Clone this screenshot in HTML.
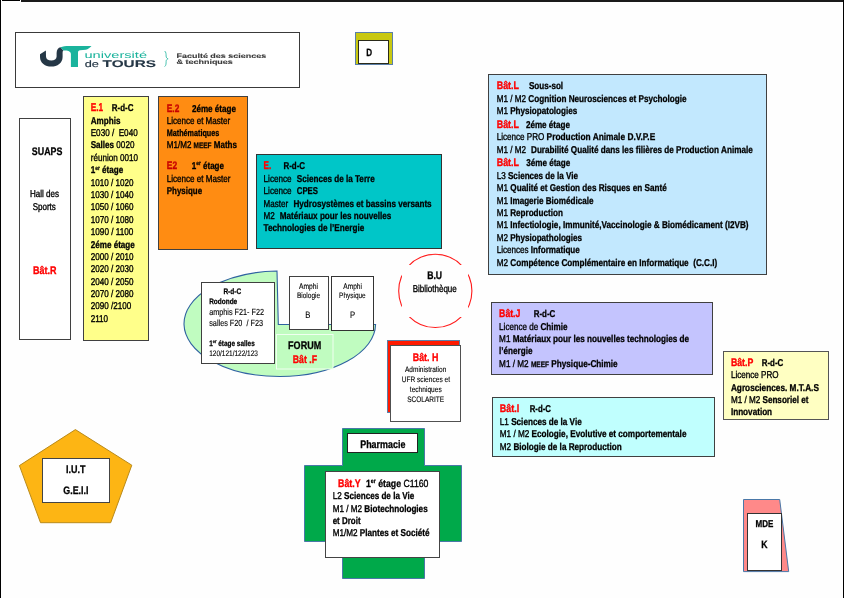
<!DOCTYPE html>
<html><head><meta charset="utf-8"><style>
html,body{margin:0;padding:0;background:#fff;}
svg{display:block;will-change:transform;font-family:"Liberation Sans",sans-serif;}
text{white-space:pre;text-rendering:geometricPrecision;}
</style></head><body>
<svg width="844" height="598" viewBox="0 0 844 598">
<rect x="0" y="0" width="844" height="598" fill="#fefefe"/>
<rect x="0" y="0" width="1" height="598" fill="#000"/>
<rect x="2" y="0" width="18" height="1" fill="#000"/>
<rect x="21" y="0" width="823" height="2" fill="#1a1a1a"/>
<rect x="843" y="0" width="1" height="598" fill="#000"/>
<rect x="15.5" y="32.5" width="284" height="55" fill="#fff" stroke="#3a3a3a" stroke-width="1"/>
<rect x="355.5" y="32.5" width="37" height="32" fill="#c8c812" stroke="#5b7fa8" stroke-width="1"/>
<rect x="358.5" y="40.5" width="30" height="23" fill="#fff" stroke="#2a2a1a" stroke-width="1"/>
<rect x="19.5" y="118.5" width="51" height="221" fill="#fff" stroke="#404040" stroke-width="1"/>
<rect x="83.5" y="96.5" width="65" height="244" fill="#ffff8a" stroke="#404040" stroke-width="1"/>
<rect x="158.5" y="96.5" width="89" height="153" fill="#ff8c12" stroke="#404040" stroke-width="1"/>
<rect x="256.5" y="154.5" width="185" height="94" fill="#00c6c8" stroke="#333" stroke-width="1"/>
<rect x="488.5" y="74.5" width="278" height="200" fill="#c2e8fe" stroke="#404040" stroke-width="1"/>
<rect x="491.5" y="302.5" width="221" height="72" fill="#c4c4fe" stroke="#404040" stroke-width="1"/>
<rect x="492.5" y="397.5" width="222" height="59" fill="#c0fffe" stroke="#404040" stroke-width="1"/>
<rect x="723.5" y="351.5" width="105" height="68" fill="#ffffc2" stroke="#555" stroke-width="1"/>
<path d="M277.0,271.07 A95.8,52.75 0 1 0 375.59,324.5 L278.3,324.5 Z" fill="#c0fcc0" stroke="#2f62a0" stroke-width="1.1"/>
<rect x="276.5" y="334.5" width="56.5" height="34.5" fill="#c0fcc0" stroke="#f0fff0" stroke-width="1"/>
<rect x="201.5" y="282.5" width="73" height="81" fill="#fff" stroke="#404040" stroke-width="1"/>
<rect x="289.5" y="276.5" width="39" height="53" fill="#fff" stroke="#404040" stroke-width="1"/>
<rect x="331.5" y="276.5" width="42" height="54" fill="#fff" stroke="#333" stroke-width="1"/>
<circle cx="435.3" cy="290.9" r="36.6" fill="none" stroke="#ff1a1a" stroke-width="1.1"/>
<rect x="402" y="265" width="66" height="52" fill="#fefefe"/>
<rect x="387.5" y="340.5" width="72" height="72" fill="#ff1a00" stroke="#5b7fa8" stroke-width="1"/>
<rect x="390.5" y="345.5" width="70" height="76" fill="#fff" stroke="#505050" stroke-width="1"/>
<path d="M342.5,428.5 H424.5 V465.5 H461.5 V541.5 H424.5 V578.5 H342.5 V541.5 H304.5 V465.5 H342.5 Z" fill="#00a94a" stroke="#4a78a8" stroke-width="1"/>
<rect x="347.5" y="433.5" width="70" height="19" fill="#fff" stroke="#222" stroke-width="1"/>
<rect x="325.5" y="471.5" width="114" height="86" fill="#fff" stroke="#444" stroke-width="1"/>
<path d="M75.4,429.6 L131.8,465.2 L110.7,522.7 L40.5,522.7 L19.4,465.6 Z" fill="#fdb514" stroke="#b98a1a" stroke-width="1"/>
<rect x="42.5" y="458.5" width="67" height="44" fill="#fff" stroke="#444" stroke-width="1"/>
<path d="M743.5,499.5 H779.7 L788.7,571.6 H743.5 Z" fill="#ff8989" stroke="#4a78a8" stroke-width="1"/>
<rect x="747.5" y="513.5" width="34" height="57" fill="#fff" stroke="#333" stroke-width="1"/>
<path d="M40,54.2 L45.9,50.6 L46,56.5 C46,59.3 48.2,60.6 51.3,60.6 C54.4,60.6 56.6,59.3 56.6,56.5 L56.6,53 C56.6,49.6 58.4,47.6 60.5,47.2 L63.4,50.4 C62.6,51 62.6,52.2 62.6,54 L62.6,57 C62.6,63.2 57.4,66.6 51.3,66.6 C45.2,66.6 40,63.2 40,57 Z" fill="#253746"/>
<path d="M60.5,47.2 C62.8,46.3 65.5,45.9 69,45.9 L91.5,45.9 C89.8,47.6 88.2,49.2 85.8,49.8 L80,50.3 C78.8,50.5 78,51.2 78,52.5 L78,66.9 L70.9,66.9 L70.9,54.2 C70.9,51.8 68.5,50.5 65.5,50.5 L63.4,50.4 Z" fill="#1ab39c"/>
<text transform="translate(84.40,57.70) scale(1.6486,1)" font-size="8.90" fill="#1ab39c" stroke="#1ab39c" stroke-width="0"><tspan >université</tspan></text>
<text transform="translate(84.70,66.80) scale(1.3874,1)" font-size="9.20" fill="#253746" stroke="#253746" stroke-width="0.15"><tspan >de</tspan></text>
<text transform="translate(102.60,66.80) scale(1.5808,1)" font-size="9.70" fill="#253746" stroke="#253746" stroke-width="0.1"><tspan font-weight="bold">TOURS</tspan></text>
<path d="M164.6,51 C166.2,52 166.1,54.5 166.1,56 C166.1,57.6 166.9,58.4 168.1,58.8 C166.9,59.2 166.1,60 166.1,61.6 C166.1,63.2 166.2,65.6 164.6,66.6" fill="none" stroke="#1ab39c" stroke-width="0.8"/>
<text transform="translate(176.50,58.00) scale(1.4024,1)" font-size="6.40" fill="#3a3a3a" stroke="#3a3a3a" stroke-width="0.12"><tspan font-weight="bold">Faculté des sciences</tspan></text>
<text transform="translate(176.50,63.90) scale(1.4033,1)" font-size="6.40" fill="#3a3a3a" stroke="#3a3a3a" stroke-width="0.12"><tspan font-weight="bold">&amp; techniques</tspan></text>
<text transform="translate(366.25,55.80) scale(0.7711,1)" font-size="10.50" fill="#000" stroke="#000" stroke-width="0.3"><tspan font-weight="bold" stroke-width="0.3">D</tspan></text>
<text transform="translate(31.80,154.80) scale(0.8149,1)" font-size="10.90" fill="#000" stroke="#000" stroke-width="0.3"><tspan font-weight="bold" stroke-width="0.3">SUAPS</tspan></text>
<text transform="translate(30.00,196.90) scale(0.8137,1)" font-size="9.90" fill="#000" stroke="#000" stroke-width="0.3"><tspan stroke-width="0.35">Hall des</tspan></text>
<text transform="translate(32.70,209.70) scale(0.8109,1)" font-size="9.90" fill="#000" stroke="#000" stroke-width="0.3"><tspan stroke-width="0.35">Sports</tspan></text>
<text transform="translate(33.10,273.80) scale(0.8252,1)" font-size="10.90" fill="#ff0000" stroke="#ff0000" stroke-width="0.3"><tspan font-weight="bold" stroke-width="0.35">Bât.R</tspan></text>
<text transform="translate(90.70,110.80) scale(0.7381,1)" font-size="11.20" fill="#000" stroke="#000" stroke-width="0.3"><tspan font-weight="bold" stroke-width="0.35" fill="#ff0000" stroke="#ff0000">E.1</tspan></text>
<text transform="translate(111.80,110.80) scale(0.8051,1)" font-size="9.90" fill="#000" stroke="#000" stroke-width="0.3"><tspan font-weight="bold" stroke-width="0.3">R-d-C</tspan></text>
<text transform="translate(90.70,123.80) scale(0.8200,1)" font-size="9.90" fill="#000" stroke="#000" stroke-width="0.3"><tspan font-weight="bold" stroke-width="0.3">Amphis</tspan></text>
<text transform="translate(90.70,135.80) scale(0.8228,1)" font-size="9.90" fill="#000" stroke="#000" stroke-width="0.3"><tspan stroke-width="0.35">E030 /  E040</tspan></text>
<text transform="translate(90.70,147.80) scale(0.8200,1)" font-size="9.90" fill="#000" stroke="#000" stroke-width="0.3"><tspan font-weight="bold" stroke-width="0.3">Salles</tspan><tspan stroke-width="0.35"> 0020</tspan></text>
<text transform="translate(90.70,160.60) scale(0.8200,1)" font-size="9.90" fill="#000" stroke="#000" stroke-width="0.3"><tspan stroke-width="0.35">réunion 0010</tspan></text>
<text transform="translate(90.70,173.00) scale(0.8200,1)" font-size="9.90" fill="#000" stroke="#000" stroke-width="0.3"><tspan font-weight="bold" stroke-width="0.3">1</tspan><tspan font-weight="bold" stroke-width="0.25" font-size="5.94" dy="-3.5">er</tspan><tspan font-weight="bold" stroke-width="0.3" dy="3.5"> étage</tspan></text>
<text transform="translate(90.70,185.70) scale(0.8184,1)" font-size="9.90" fill="#000" stroke="#000" stroke-width="0.3"><tspan stroke-width="0.35">1010 / 1020</tspan></text>
<text transform="translate(90.70,197.80) scale(0.8184,1)" font-size="9.90" fill="#000" stroke="#000" stroke-width="0.3"><tspan stroke-width="0.35">1030 / 1040</tspan></text>
<text transform="translate(90.70,209.50) scale(0.8184,1)" font-size="9.90" fill="#000" stroke="#000" stroke-width="0.3"><tspan stroke-width="0.35">1050 / 1060</tspan></text>
<text transform="translate(90.70,222.50) scale(0.8184,1)" font-size="9.90" fill="#000" stroke="#000" stroke-width="0.3"><tspan stroke-width="0.35">1070 / 1080</tspan></text>
<text transform="translate(90.70,234.60) scale(0.8302,1)" font-size="9.90" fill="#000" stroke="#000" stroke-width="0.3"><tspan stroke-width="0.35">1090 / 1100</tspan></text>
<text transform="translate(90.70,247.70) scale(0.8200,1)" font-size="9.90" fill="#000" stroke="#000" stroke-width="0.3"><tspan font-weight="bold" stroke-width="0.3">2éme étage</tspan></text>
<text transform="translate(90.70,259.70) scale(0.8184,1)" font-size="9.90" fill="#000" stroke="#000" stroke-width="0.3"><tspan stroke-width="0.35">2000 / 2010</tspan></text>
<text transform="translate(90.70,271.50) scale(0.8184,1)" font-size="9.90" fill="#000" stroke="#000" stroke-width="0.3"><tspan stroke-width="0.35">2020 / 2030</tspan></text>
<text transform="translate(90.70,284.50) scale(0.8184,1)" font-size="9.90" fill="#000" stroke="#000" stroke-width="0.3"><tspan stroke-width="0.35">2040 / 2050</tspan></text>
<text transform="translate(90.70,297.00) scale(0.8184,1)" font-size="9.90" fill="#000" stroke="#000" stroke-width="0.3"><tspan stroke-width="0.35">2070 / 2080</tspan></text>
<text transform="translate(90.70,309.00) scale(0.8200,1)" font-size="9.90" fill="#000" stroke="#000" stroke-width="0.3"><tspan stroke-width="0.35">2090 /2100</tspan></text>
<text transform="translate(90.70,321.80) scale(0.8200,1)" font-size="9.90" fill="#000" stroke="#000" stroke-width="0.3"><tspan stroke-width="0.35">2110</tspan></text>
<text transform="translate(166.80,111.60) scale(0.7645,1)" font-size="10.90" fill="#c80000" stroke="#c80000" stroke-width="0.3"><tspan font-weight="bold" stroke-width="0.35">E.2</tspan></text>
<text transform="translate(191.90,111.60) scale(0.8196,1)" font-size="9.90" fill="#000" stroke="#000" stroke-width="0.3"><tspan font-weight="bold" stroke-width="0.3">2éme étage</tspan></text>
<text transform="translate(166.80,123.60) scale(0.8127,1)" font-size="9.90" fill="#000" stroke="#000" stroke-width="0.3"><tspan stroke-width="0.35">Licence et Master</tspan></text>
<text transform="translate(166.80,135.60) scale(0.7740,1)" font-size="9.30" fill="#000" stroke="#000" stroke-width="0.3"><tspan font-weight="bold" stroke-width="0.3">Mathématiques</tspan></text>
<text transform="translate(166.80,147.70) scale(0.8140,1)" font-size="9.90" fill="#000" stroke="#000" stroke-width="0.3"><tspan stroke-width="0.35">M1/M2 </tspan><tspan font-weight="bold" stroke-width="0.25" font-size="7.92">MEEF</tspan><tspan font-weight="bold" stroke-width="0.3"> Maths</tspan></text>
<text transform="translate(166.80,168.90) scale(0.7730,1)" font-size="10.90" fill="#c80000" stroke="#c80000" stroke-width="0.3"><tspan font-weight="bold" stroke-width="0.35">E2</tspan></text>
<text transform="translate(191.80,168.70) scale(0.8104,1)" font-size="9.90" fill="#000" stroke="#000" stroke-width="0.3"><tspan font-weight="bold" stroke-width="0.3">1</tspan><tspan font-weight="bold" stroke-width="0.25" font-size="5.94" dy="-3.5">er</tspan><tspan font-weight="bold" stroke-width="0.3" dy="3.5"> étage</tspan></text>
<text transform="translate(166.80,181.80) scale(0.8165,1)" font-size="9.90" fill="#000" stroke="#000" stroke-width="0.3"><tspan stroke-width="0.35">Licence et Master</tspan></text>
<text transform="translate(166.80,193.70) scale(0.8044,1)" font-size="9.90" fill="#000" stroke="#000" stroke-width="0.3"><tspan font-weight="bold" stroke-width="0.3">Physique</tspan></text>
<text transform="translate(263.60,169.00) scale(0.7181,1)" font-size="11.20" fill="#ff0000" stroke="#ff0000" stroke-width="0.3"><tspan font-weight="bold" stroke-width="0.35">E.</tspan></text>
<text transform="translate(283.40,168.70) scale(0.8051,1)" font-size="9.90" fill="#000" stroke="#000" stroke-width="0.3"><tspan font-weight="bold" stroke-width="0.3">R-d-C</tspan></text>
<text transform="translate(263.60,181.80) scale(0.8200,1)" font-size="9.90" fill="#000" stroke="#000" stroke-width="0.3"><tspan stroke-width="0.35">Licence</tspan></text>
<text transform="translate(296.80,181.80) scale(0.8220,1)" font-size="9.90" fill="#000" stroke="#000" stroke-width="0.3"><tspan font-weight="bold" stroke-width="0.3">Sciences de la Terre</tspan></text>
<text transform="translate(263.60,193.90) scale(0.8200,1)" font-size="9.90" fill="#000" stroke="#000" stroke-width="0.3"><tspan stroke-width="0.35">Licence</tspan></text>
<text transform="translate(296.80,193.90) scale(0.7829,1)" font-size="9.90" fill="#000" stroke="#000" stroke-width="0.3"><tspan font-weight="bold" stroke-width="0.3">CPES</tspan></text>
<text transform="translate(263.60,207.40) scale(0.8101,1)" font-size="9.90" fill="#000" stroke="#000" stroke-width="0.3"><tspan stroke-width="0.35">Master</tspan></text>
<text transform="translate(293.40,207.40) scale(0.8230,1)" font-size="9.90" fill="#000" stroke="#000" stroke-width="0.3"><tspan font-weight="bold" stroke-width="0.3">Hydrosystèmes et bassins versants</tspan></text>
<text transform="translate(263.60,219.20) scale(0.8200,1)" font-size="9.90" fill="#000" stroke="#000" stroke-width="0.3"><tspan stroke-width="0.35">M2</tspan></text>
<text transform="translate(279.70,219.20) scale(0.8227,1)" font-size="9.90" fill="#000" stroke="#000" stroke-width="0.3"><tspan font-weight="bold" stroke-width="0.3">Matériaux pour les nouvelles</tspan></text>
<text transform="translate(263.60,230.80) scale(0.8274,1)" font-size="9.90" fill="#000" stroke="#000" stroke-width="0.3"><tspan font-weight="bold" stroke-width="0.3">Technologies de l’Energie</tspan></text>
<text transform="translate(496.70,88.80) scale(0.8200,1)" font-size="10.90" fill="#ff0000" stroke="#ff0000" stroke-width="0.3"><tspan font-weight="bold" stroke-width="0.35">Bât.L</tspan></text>
<text transform="translate(528.90,88.80) scale(0.8200,1)" font-size="9.90" fill="#000" stroke="#000" stroke-width="0.3"><tspan font-weight="bold" stroke-width="0.3">Sous-sol</tspan></text>
<text transform="translate(496.70,101.80) scale(0.8200,1)" font-size="9.90" fill="#000" stroke="#000" stroke-width="0.3"><tspan stroke-width="0.35">M1 / M2</tspan></text>
<text transform="translate(528.30,101.80) scale(0.8265,1)" font-size="9.90" fill="#000" stroke="#000" stroke-width="0.3"><tspan font-weight="bold" stroke-width="0.3">Cognition Neurosciences et Psychologie</tspan></text>
<text transform="translate(496.70,113.80) scale(0.8200,1)" font-size="9.90" fill="#000" stroke="#000" stroke-width="0.3"><tspan stroke-width="0.35">M1 </tspan><tspan font-weight="bold" stroke-width="0.3">Physiopatologies</tspan></text>
<text transform="translate(496.70,127.90) scale(0.8200,1)" font-size="10.90" fill="#ff0000" stroke="#ff0000" stroke-width="0.3"><tspan font-weight="bold" stroke-width="0.35">Bât.L</tspan></text>
<text transform="translate(525.90,127.90) scale(0.8200,1)" font-size="9.90" fill="#000" stroke="#000" stroke-width="0.3"><tspan font-weight="bold" stroke-width="0.3">2éme étage</tspan></text>
<text transform="translate(496.70,139.60) scale(0.8200,1)" font-size="9.90" fill="#000" stroke="#000" stroke-width="0.3"><tspan stroke-width="0.35">Licence PRO</tspan></text>
<text transform="translate(546.60,139.60) scale(0.8447,1)" font-size="9.90" fill="#000" stroke="#000" stroke-width="0.3"><tspan font-weight="bold" stroke-width="0.3">Production Animale D.V.P.E</tspan></text>
<text transform="translate(496.70,152.90) scale(0.8200,1)" font-size="9.90" fill="#000" stroke="#000" stroke-width="0.3"><tspan stroke-width="0.35">M1 / M2</tspan></text>
<text transform="translate(531.00,152.90) scale(0.8258,1)" font-size="9.90" fill="#000" stroke="#000" stroke-width="0.3"><tspan font-weight="bold" stroke-width="0.3">Durabilité Qualité dans les filières de Production Animale</tspan></text>
<text transform="translate(496.70,165.60) scale(0.8200,1)" font-size="10.90" fill="#ff0000" stroke="#ff0000" stroke-width="0.3"><tspan font-weight="bold" stroke-width="0.35">Bât.L</tspan></text>
<text transform="translate(526.20,165.60) scale(0.8200,1)" font-size="9.90" fill="#000" stroke="#000" stroke-width="0.3"><tspan font-weight="bold" stroke-width="0.3">3éme étage</tspan></text>
<text transform="translate(496.70,178.90) scale(0.8205,1)" font-size="9.90" fill="#000" stroke="#000" stroke-width="0.3"><tspan stroke-width="0.35">L3 </tspan><tspan font-weight="bold" stroke-width="0.3">Sciences de la Vie</tspan></text>
<text transform="translate(496.70,190.80) scale(0.8259,1)" font-size="9.90" fill="#000" stroke="#000" stroke-width="0.3"><tspan stroke-width="0.35">M1 </tspan><tspan font-weight="bold" stroke-width="0.3">Qualité et Gestion des Risques en Santé</tspan></text>
<text transform="translate(496.70,204.20) scale(0.8199,1)" font-size="9.90" fill="#000" stroke="#000" stroke-width="0.3"><tspan stroke-width="0.35">M1 </tspan><tspan font-weight="bold" stroke-width="0.3">Imagerie Biomédicale</tspan></text>
<text transform="translate(496.70,215.50) scale(0.8200,1)" font-size="9.90" fill="#000" stroke="#000" stroke-width="0.3"><tspan stroke-width="0.35">M1 </tspan><tspan font-weight="bold" stroke-width="0.3">Reproduction</tspan></text>
<text transform="translate(496.70,228.00) scale(0.8270,1)" font-size="9.90" fill="#000" stroke="#000" stroke-width="0.3"><tspan stroke-width="0.35">M1 </tspan><tspan font-weight="bold" stroke-width="0.3">Infectiologie, Immunité,Vaccinologie &amp; Biomédicament (I2VB)</tspan></text>
<text transform="translate(496.70,240.80) scale(0.8181,1)" font-size="9.90" fill="#000" stroke="#000" stroke-width="0.3"><tspan stroke-width="0.35">M2 </tspan><tspan font-weight="bold" stroke-width="0.3">Physiopathologies</tspan></text>
<text transform="translate(496.70,253.30) scale(0.8185,1)" font-size="9.90" fill="#000" stroke="#000" stroke-width="0.3"><tspan stroke-width="0.35">Licences </tspan><tspan font-weight="bold" stroke-width="0.3">Informatique</tspan></text>
<text transform="translate(496.70,266.00) scale(0.8250,1)" font-size="9.90" fill="#000" stroke="#000" stroke-width="0.3"><tspan stroke-width="0.35">M2 </tspan><tspan font-weight="bold" stroke-width="0.3">Compétence Complémentaire en Informatique  (C.C.I)</tspan></text>
<text transform="translate(499.10,316.80) scale(0.7992,1)" font-size="10.90" fill="#ff0000" stroke="#ff0000" stroke-width="0.3"><tspan font-weight="bold" stroke-width="0.35">Bât.J</tspan></text>
<text transform="translate(533.70,316.80) scale(0.8014,1)" font-size="9.90" fill="#000" stroke="#000" stroke-width="0.3"><tspan font-weight="bold" stroke-width="0.3">R-d-C</tspan></text>
<text transform="translate(499.10,329.60) scale(0.8188,1)" font-size="9.90" fill="#000" stroke="#000" stroke-width="0.3"><tspan stroke-width="0.35">Licence de </tspan><tspan font-weight="bold" stroke-width="0.3">Chimie</tspan></text>
<text transform="translate(499.10,341.70) scale(0.8264,1)" font-size="9.90" fill="#000" stroke="#000" stroke-width="0.3"><tspan stroke-width="0.35">M1 </tspan><tspan font-weight="bold" stroke-width="0.3">Matériaux pour les nouvelles technologies de</tspan></text>
<text transform="translate(499.10,354.20) scale(0.8200,1)" font-size="9.90" fill="#000" stroke="#000" stroke-width="0.3"><tspan font-weight="bold" stroke-width="0.3">l’énergie</tspan></text>
<text transform="translate(499.10,367.00) scale(0.8275,1)" font-size="9.90" fill="#000" stroke="#000" stroke-width="0.3"><tspan stroke-width="0.35">M1 / M2 </tspan><tspan font-weight="bold" stroke-width="0.25" font-size="7.92">MEEF</tspan><tspan font-weight="bold" stroke-width="0.3"> Physique-Chimie</tspan></text>
<text transform="translate(499.80,411.80) scale(0.8200,1)" font-size="10.90" fill="#ff0000" stroke="#ff0000" stroke-width="0.3"><tspan font-weight="bold" stroke-width="0.35">Bât.I</tspan></text>
<text transform="translate(529.70,411.80) scale(0.7903,1)" font-size="9.90" fill="#000" stroke="#000" stroke-width="0.3"><tspan font-weight="bold" stroke-width="0.3">R-d-C</tspan></text>
<text transform="translate(499.80,424.60) scale(0.8256,1)" font-size="9.90" fill="#000" stroke="#000" stroke-width="0.3"><tspan stroke-width="0.35">L1 </tspan><tspan font-weight="bold" stroke-width="0.3">Sciences de la Vie</tspan></text>
<text transform="translate(499.80,437.00) scale(0.8275,1)" font-size="9.90" fill="#000" stroke="#000" stroke-width="0.3"><tspan stroke-width="0.35">M1 / M2 </tspan><tspan font-weight="bold" stroke-width="0.3">Ecologie, Evolutive et comportementale</tspan></text>
<text transform="translate(499.80,449.50) scale(0.8258,1)" font-size="9.90" fill="#000" stroke="#000" stroke-width="0.3"><tspan stroke-width="0.35">M2 </tspan><tspan font-weight="bold" stroke-width="0.3">Biologie de la Reproduction</tspan></text>
<text transform="translate(730.90,365.60) scale(0.8043,1)" font-size="10.90" fill="#ff0000" stroke="#ff0000" stroke-width="0.3"><tspan font-weight="bold" stroke-width="0.35">Bât.P</tspan></text>
<text transform="translate(761.70,365.60) scale(0.8014,1)" font-size="9.90" fill="#000" stroke="#000" stroke-width="0.3"><tspan font-weight="bold" stroke-width="0.3">R-d-C</tspan></text>
<text transform="translate(730.90,377.80) scale(0.8194,1)" font-size="9.90" fill="#000" stroke="#000" stroke-width="0.3"><tspan stroke-width="0.35">Licence PRO</tspan></text>
<text transform="translate(730.90,390.90) scale(0.8350,1)" font-size="9.90" fill="#000" stroke="#000" stroke-width="0.3"><tspan font-weight="bold" stroke-width="0.3">Agrosciences. M.T.A.S</tspan></text>
<text transform="translate(730.90,402.60) scale(0.8220,1)" font-size="9.90" fill="#000" stroke="#000" stroke-width="0.3"><tspan stroke-width="0.35">M1 / M2 </tspan><tspan font-weight="bold" stroke-width="0.3">Sensoriel et</tspan></text>
<text transform="translate(730.90,415.00) scale(0.8253,1)" font-size="9.90" fill="#000" stroke="#000" stroke-width="0.3"><tspan font-weight="bold" stroke-width="0.3">Innovation</tspan></text>
<text transform="translate(223.40,293.80) scale(0.8173,1)" font-size="8.00" fill="#000" stroke="#000" stroke-width="0.1"><tspan font-weight="bold" stroke-width="0.25">R-d-C</tspan></text>
<text transform="translate(209.20,303.70) scale(0.8181,1)" font-size="7.90" fill="#000" stroke="#000" stroke-width="0.1"><tspan font-weight="bold" stroke-width="0.25">Rodonde</tspan></text>
<text transform="translate(209.20,314.80) scale(0.8174,1)" font-size="8.90" fill="#000" stroke="#000" stroke-width="0.1"><tspan stroke-width="0.12">amphis F21- F22</tspan></text>
<text transform="translate(209.20,325.50) scale(0.8208,1)" font-size="8.90" fill="#000" stroke="#000" stroke-width="0.1"><tspan stroke-width="0.12">salles F20  / F23</tspan></text>
<text transform="translate(209.20,345.60) scale(0.8044,1)" font-size="8.00" fill="#000" stroke="#000" stroke-width="0.1"><tspan font-weight="bold" stroke-width="0.25">1</tspan><tspan font-weight="bold" stroke-width="0.25" font-size="4.80" dy="-2.8">er</tspan><tspan font-weight="bold" stroke-width="0.25" dy="2.8"> étage salles</tspan></text>
<text transform="translate(209.20,355.80) scale(0.8228,1)" font-size="7.90" fill="#000" stroke="#000" stroke-width="0.1"><tspan stroke-width="0.12">120/121/122/123</tspan></text>
<text transform="translate(299.00,288.70) scale(0.8173,1)" font-size="8.20" fill="#000" stroke="#000" stroke-width="0.1"><tspan stroke-width="0.12">Amphi</tspan></text>
<text transform="translate(296.90,297.70) scale(0.8152,1)" font-size="8.00" fill="#000" stroke="#000" stroke-width="0.1"><tspan stroke-width="0.12">Biologie</tspan></text>
<text transform="translate(305.30,317.70) scale(0.8200,1)" font-size="9.40" fill="#000" stroke="#000" stroke-width="0.1"><tspan >B</tspan></text>
<text transform="translate(343.30,288.70) scale(0.8044,1)" font-size="8.20" fill="#000" stroke="#000" stroke-width="0.1"><tspan stroke-width="0.12">Amphi</tspan></text>
<text transform="translate(339.10,297.70) scale(0.8080,1)" font-size="8.00" fill="#000" stroke="#000" stroke-width="0.1"><tspan stroke-width="0.12">Physique</tspan></text>
<text transform="translate(349.90,317.70) scale(0.8200,1)" font-size="9.40" fill="#000" stroke="#000" stroke-width="0.1"><tspan >P</tspan></text>
<text transform="translate(288.10,348.70) scale(0.8286,1)" font-size="10.90" fill="#000" stroke="#000" stroke-width="0.3"><tspan font-weight="bold" stroke-width="0.3">FORUM</tspan></text>
<text transform="translate(292.80,362.60) scale(0.7993,1)" font-size="10.90" fill="#ff0000" stroke="#ff0000" stroke-width="0.3"><tspan font-weight="bold" stroke-width="0.35">Bât .F</tspan></text>
<text transform="translate(427.20,278.90) scale(0.7864,1)" font-size="11.00" fill="#000" stroke="#000" stroke-width="0.3"><tspan font-weight="bold" stroke-width="0.3">B.U</tspan></text>
<text transform="translate(412.70,291.50) scale(0.8110,1)" font-size="9.90" fill="#000" stroke="#000" stroke-width="0.3"><tspan stroke-width="0.35">Bibliothèque</tspan></text>
<text transform="translate(412.80,360.80) scale(0.8127,1)" font-size="10.90" fill="#ff0000" stroke="#ff0000" stroke-width="0.3"><tspan font-weight="bold" stroke-width="0.35">Bât. H</tspan></text>
<text transform="translate(405.00,371.60) scale(0.8149,1)" font-size="8.00" fill="#000" stroke="#000" stroke-width="0.1"><tspan stroke-width="0.12">Administration</tspan></text>
<text transform="translate(401.70,381.80) scale(0.8231,1)" font-size="8.00" fill="#000" stroke="#000" stroke-width="0.1"><tspan stroke-width="0.12">UFR sciences et</tspan></text>
<text transform="translate(409.80,392.00) scale(0.8243,1)" font-size="8.00" fill="#000" stroke="#000" stroke-width="0.1"><tspan stroke-width="0.12">techniques</tspan></text>
<text transform="translate(407.20,401.60) scale(0.8161,1)" font-size="8.00" fill="#000" stroke="#000" stroke-width="0.1"><tspan stroke-width="0.12">SCOLARITE</tspan></text>
<text transform="translate(360.20,447.90) scale(0.8195,1)" font-size="10.90" fill="#000" stroke="#000" stroke-width="0.3"><tspan font-weight="bold" stroke-width="0.3">Pharmacie</tspan></text>
<text transform="translate(338.10,486.70) scale(0.8079,1)" font-size="10.90" fill="#ff0000" stroke="#ff0000" stroke-width="0.3"><tspan font-weight="bold" stroke-width="0.35">Bât.Y</tspan></text>
<text transform="translate(366.00,486.70) scale(0.8389,1)" font-size="10.40" fill="#000" stroke="#000" stroke-width="0.3"><tspan font-weight="bold" stroke-width="0.3">1</tspan><tspan font-weight="bold" stroke-width="0.25" font-size="6.24" dy="-3.5">er</tspan><tspan font-weight="bold" stroke-width="0.3" dy="3.5"> étage</tspan><tspan stroke-width="0.35"> C1160</tspan></text>
<text transform="translate(332.70,498.80) scale(0.8215,1)" font-size="9.90" fill="#000" stroke="#000" stroke-width="0.3"><tspan stroke-width="0.35">L2 </tspan><tspan font-weight="bold" stroke-width="0.3">Sciences de la Vie</tspan></text>
<text transform="translate(332.70,511.70) scale(0.8242,1)" font-size="9.90" fill="#000" stroke="#000" stroke-width="0.3"><tspan stroke-width="0.35">M1 / M2 </tspan><tspan font-weight="bold" stroke-width="0.3">Biotechnologies</tspan></text>
<text transform="translate(332.70,524.30) scale(0.8052,1)" font-size="9.90" fill="#000" stroke="#000" stroke-width="0.3"><tspan font-weight="bold" stroke-width="0.3">et Droit</tspan></text>
<text transform="translate(332.70,535.80) scale(0.8246,1)" font-size="9.90" fill="#000" stroke="#000" stroke-width="0.3"><tspan stroke-width="0.35">M1/M2 </tspan><tspan font-weight="bold" stroke-width="0.3">Plantes et Société</tspan></text>
<text transform="translate(66.00,473.00) scale(0.8254,1)" font-size="10.90" fill="#000" stroke="#000" stroke-width="0.3"><tspan font-weight="bold" stroke-width="0.3">I.U.T</tspan></text>
<text transform="translate(63.30,493.90) scale(0.8123,1)" font-size="10.90" fill="#000" stroke="#000" stroke-width="0.3"><tspan font-weight="bold" stroke-width="0.3">G.E.I.I</tspan></text>
<text transform="translate(755.60,526.60) scale(0.8172,1)" font-size="9.80" fill="#000" stroke="#000" stroke-width="0.3"><tspan font-weight="bold" stroke-width="0.3">MDE</tspan></text>
<text transform="translate(761.30,548.00) scale(0.8149,1)" font-size="10.70" fill="#000" stroke="#000" stroke-width="0.3"><tspan font-weight="bold" stroke-width="0.3">K</tspan></text>
</svg>
</body></html>
